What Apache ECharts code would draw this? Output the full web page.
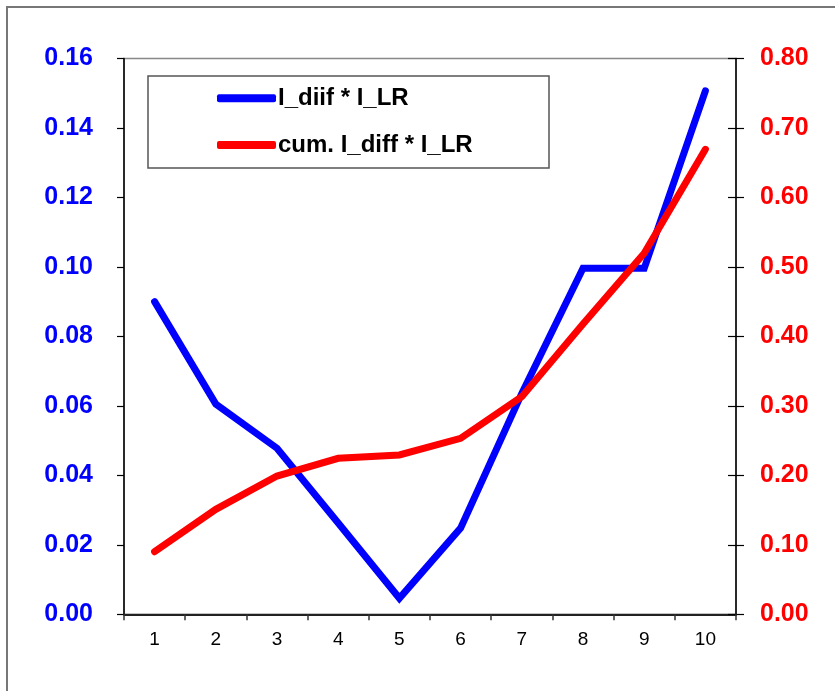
<!DOCTYPE html>
<html>
<head>
<meta charset="utf-8">
<script src="https://cdn.jsdelivr.net/npm/echarts@6/dist/echarts.min.js"></script>
<style>
  html, body { margin: 0; padding: 0; background: #fff; }
  #chart { width: 835px; height: 691px; }
</style>
</head>
<body>
<div id="chart"></div>
<script>
const categories = ['1', '2', '3', '4', '5', '6', '7', '8', '9', '10'];
const seriesNames = ['I_diif * I_LR', 'cum. I_diff * I_LR'];
const diffValues = [0.0900, 0.0605, 0.0478, 0.0263, 0.0046, 0.0248, 0.0636, 0.0996, 0.0996, 0.1507];
const cumValues = [0.0901, 0.1511, 0.1990, 0.2245, 0.2293, 0.2533, 0.3132, 0.4180, 0.5196, 0.6693];

const FONT = "'Liberation Sans', Arial, sans-serif";
const chart = echarts.init(document.getElementById('chart'), null, { renderer: 'canvas' });

chart.setOption({
  animation: false,
  backgroundColor: '#ffffff',
  grid: {
    left: 124, right: 99, top: 58.5, bottom: 76.7,
    show: true, borderColor: '#888', borderWidth: 1.5, backgroundColor: 'transparent'
  },
  graphic: [
    {
      type: 'rect', silent: true, z: -1,
      shape: { x: 7, y: 7, width: 900, height: 800 },
      style: { fill: 'none', stroke: '#777', lineWidth: 2 }
    },
    {
      type: 'rect', silent: true, z: 1,
      shape: { x: 148, y: 76, width: 401, height: 92 },
      style: { fill: '#fff', stroke: '#555', lineWidth: 1.5 }
    }
  ],
  legend: {
    orient: 'vertical',
    left: 217, top: 86.3,
    padding: 0,
    itemWidth: 59, itemHeight: 8,
    itemGap: 22.7,
    icon: 'roundRect',
    z: 5,
    textStyle: {
      fontFamily: FONT, fontSize: 24, fontWeight: 'bold', color: '#000',
      lineHeight: 24, padding: [0, 0, 0, -3]
    },
    data: seriesNames
  },
  xAxis: {
    type: 'category',
    data: categories,
    boundaryGap: true,
    axisLine: { show: true, lineStyle: { color: '#222', width: 2 } },
    axisTick: { show: true, inside: false, length: 6, alignWithLabel: false, lineStyle: { color: '#333', width: 1.5 } },
    axisLabel: { fontFamily: FONT, fontSize: 19, color: '#000', margin: 16 },
    splitLine: { show: false }
  },
  yAxis: [
    {
      type: 'value', position: 'left',
      min: 0, max: 0.16, interval: 0.02,
      axisLine: { show: true, lineStyle: { color: '#000', width: 1.5 } },
      axisTick: { show: true, inside: false, length: 7, lineStyle: { color: '#000', width: 1.2 } },
      axisLabel: {
        fontFamily: FONT, fontSize: 25, fontWeight: 'bold', color: '#0000ff', margin: 31,
        formatter: v => v.toFixed(2)
      },
      splitLine: { show: false }
    },
    {
      type: 'value', position: 'right',
      min: 0, max: 0.8, interval: 0.1,
      axisLine: { show: true, lineStyle: { color: '#000', width: 1.5 } },
      axisTick: { show: true, inside: false, length: 8, lineStyle: { color: '#000', width: 1.2 } },
      axisLabel: {
        fontFamily: FONT, fontSize: 25, fontWeight: 'bold', color: '#ff0000', margin: 24,
        formatter: v => v.toFixed(2)
      },
      splitLine: { show: false }
    },
    {
      type: 'value', position: 'right',
      min: 0, max: 0.8, interval: 0.1,
      axisLine: { show: false },
      axisTick: { show: true, inside: true, length: 8, lineStyle: { color: '#000', width: 1.2 } },
      axisLabel: { show: false },
      splitLine: { show: false }
    }
  ],
  series: [
    {
      name: seriesNames[0], type: 'line', yAxisIndex: 0,
      data: diffValues, symbol: 'none', z: 3,
      itemStyle: { color: '#0000ff' },
      lineStyle: { color: '#0000ff', width: 7, cap: 'round', join: 'miter' }
    },
    {
      name: seriesNames[1], type: 'line', yAxisIndex: 1,
      data: cumValues, symbol: 'none', z: 4,
      itemStyle: { color: '#ff0000' },
      lineStyle: { color: '#ff0000', width: 7, cap: 'round', join: 'miter' }
    }
  ]
});
</script>
</body>
</html>
